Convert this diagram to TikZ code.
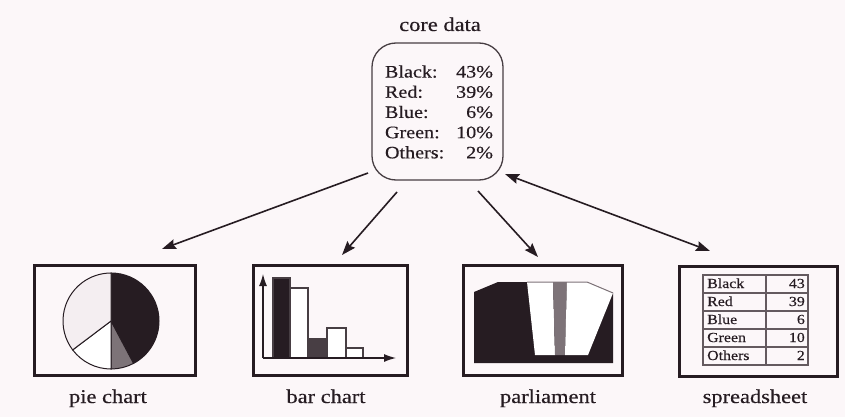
\documentclass[tikz,border=0pt]{standalone}
\usepackage{fontspec}
\setmainfont{Liberation Serif}[FakeStretch=1.15,FakeBold=0.4]
\usetikzlibrary{arrows.meta}
\definecolor{ink}{RGB}{38,28,34}
\definecolor{bg}{RGB}{252,247,249}
\definecolor{midgray}{RGB}{125,115,120}
\definecolor{lightfill}{RGB}{244,238,241}
\definecolor{darkbar}{RGB}{72,62,68}
\definecolor{tablegray}{RGB}{100,90,95}
\begin{document}
\begin{tikzpicture}[x=1pt,y=-1pt,
  frame/.style={draw=ink, line width=3pt, minimum height=110pt, inner sep=0pt},
  lbl/.style={font=\fontsize{19.5}{22}\selectfont, text=ink, anchor=base},
  conn/.style={draw=ink, line width=1.6pt, -{Stealth[length=14pt,width=10pt,inset=2pt]}},
  dconn/.style={draw=ink, line width=1.6pt, {Stealth[length=14pt,width=10pt,inset=2pt]}-{Stealth[length=14pt,width=10pt,inset=2pt]}},
  wedge/.style={draw=ink, line width=1pt},
  bar/.style={draw=ink!85, line width=1.2pt},
  axis/.style={draw=ink, line width=1.2pt, -{Latex[length=12pt,width=8pt]}},
  cell/.style={font=\fontsize{13.8}{16}\selectfont, text=ink, inner sep=0pt, anchor=base west},
  num/.style={font=\fontsize{13.8}{16}\selectfont, text=ink, inner sep=0pt, anchor=base east},
  tline/.style={draw=tablegray, line width=1.6pt}]
\fill[bg] (0,0) rectangle (845,417);
\useasboundingbox (0,0) rectangle (845,417);

% core data
\node[lbl] (corelbl) at (440,31) {core data};
\node[draw=ink!85, line width=1.3pt, rounded corners=24pt, minimum width=131pt, minimum height=137pt, inner sep=0pt] (core) at (437.5,111.5) {};
\node[font=\fontsize{17.5}{20.2}\selectfont, text=ink, align=left, inner sep=0pt] (coretext) at (439,112)
  {\makebox[108pt]{Black:\hfill 43\%}\\
   \makebox[108pt]{Red:\hfill 39\%}\\
   \makebox[108pt]{Blue:\hfill 6\%}\\
   \makebox[108pt]{Green:\hfill 10\%}\\
   \makebox[108pt]{Others:\hfill 2\%}};

% frames
\node[frame, minimum width=161pt] (pie) at (114.5,320) {};
\node[frame, minimum width=154pt] (bar) at (330,320) {};
\node[frame, minimum width=159pt] (parl) at (542.5,320) {};
\node[frame, minimum width=158pt] (sheet) at (758,321) {};

% labels
\node[lbl] (pielbl) at (108,403) {pie chart};
\node[lbl] (barlbl) at (326,403) {bar chart};
\node[lbl] (parllbl) at (548,403) {parliament};
\node[lbl] (sheetlbl) at (755,403) {spreadsheet};

% pie chart
\coordinate (pc) at (111,321);
\filldraw[wedge, fill=ink] (pc) -- ++(-90:48) arc[start angle=-90, end angle=62, radius=48] -- cycle;
\filldraw[wedge, fill=midgray] (pc) -- ++(62:48) arc[start angle=62, end angle=90, radius=48] -- cycle;
\filldraw[wedge, fill=white] (pc) -- ++(90:48) arc[start angle=90, end angle=143, radius=48] -- cycle;
\filldraw[wedge, fill=lightfill] (pc) -- ++(143:48) arc[start angle=143, end angle=270, radius=48] -- cycle;

% bar chart
\filldraw[bar, fill=ink] (273,358) rectangle (290,278);
\filldraw[bar, fill=white] (290,358) rectangle (308,288);
\filldraw[bar, fill=darkbar] (308,358) rectangle (327,339);
\filldraw[bar, fill=white] (327,358) rectangle (346,328);
\filldraw[bar, fill=white] (346,358) rectangle (363,348);
\coordinate (origin) at (263,358);
\coordinate (ytip) at (263,274);
\coordinate (xtip) at (396,358);
\draw[axis] (origin) -- (ytip);
\draw[axis] (origin) -- (xtip);

% parliament
\fill[ink] (474,292) -- (498,282) -- (587,282) -- (613,293) -- (613,363) -- (474,363) -- cycle;
\fill[white] (527,282) -- (553,282) -- (555,355) -- (535,355) -- cycle;
\fill[midgray] (553,282) -- (567,282) -- (565,355) -- (555,355) -- cycle;
\fill[white] (567,282) -- (587,282) -- (613,293) -- (588,355) -- (565,355) -- cycle;
\draw[midgray, line width=1pt] (527,282) -- (587,282) -- (613,293);

% spreadsheet
\foreach \y in {275,293,311,329,347,365} \draw[tline] (703,\y) -- (808,\y);
\draw[tline] (703,274.2) -- (703,365.8);
\draw[tline] (808,274.2) -- (808,365.8);
\draw[tline] (766,275) -- (766,365);
\foreach \t/\v [count=\i] in {Black/43, Red/39, Blue/6, Green/10, Others/2} {
  \node[cell] (sl\i) at (707,275+18*\i-5) {\t};
  \node[num] (sv\i) at (805,275+18*\i-5) {\v};
}

% connectors
\coordinate (pieS) at (368,173);
\coordinate (pieE) at (162,249);
\coordinate (barS) at (397,192);
\coordinate (barE) at (342,255);
\coordinate (parlS) at (478,191);
\coordinate (parlE) at (538,257);
\coordinate (sheetS) at (505,174);
\coordinate (sheetE) at (710,251);
\draw[conn] (pieS) -- (pieE);
\draw[conn] (barS) -- (barE);
\draw[conn] (parlS) -- (parlE);
\draw[dconn] (sheetS) -- (sheetE);
\end{tikzpicture}
\end{document}
